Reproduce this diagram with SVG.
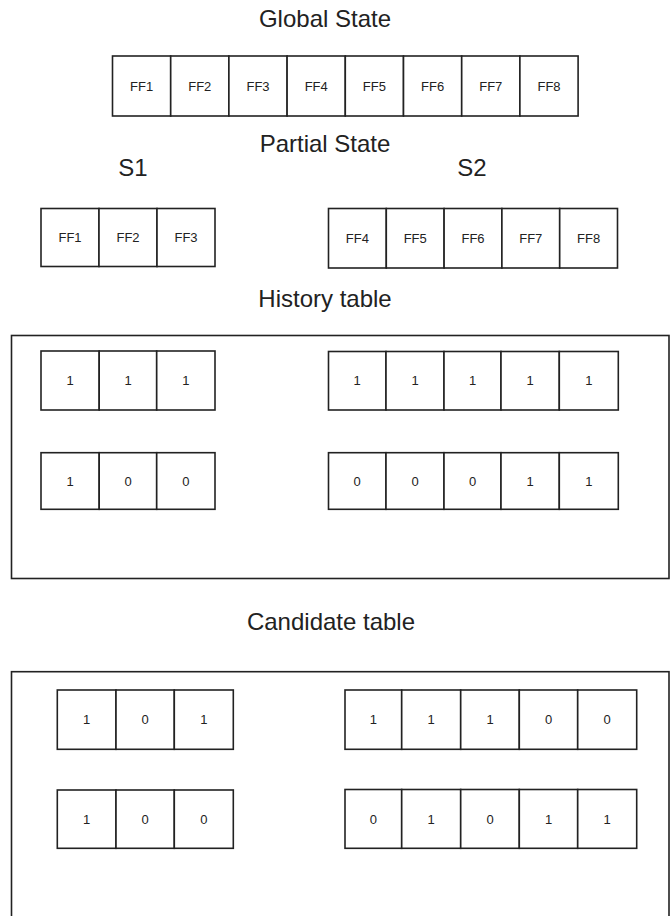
<svg xmlns="http://www.w3.org/2000/svg" width="670" height="916" viewBox="0 0 670 916">
<style>
.t{font-family:"Liberation Sans",Arial,sans-serif;fill:#222;text-anchor:middle}
.title{font-size:24px}
.c{font-size:13px}
.cell{fill:#fff;stroke:#222;stroke-width:1.6}
.outer{fill:none;stroke:#222;stroke-width:1.6}
</style>
<rect width="670" height="916" fill="#fff"/>
<g id="titles">
<text class="t title" x="325" y="27">Global State</text>
<text class="t title" x="325" y="152">Partial State</text>
<text class="t title" x="133" y="176">S1</text>
<text class="t title" x="472" y="176">S2</text>
<text class="t title" x="325" y="307">History table</text>
<text class="t title" x="331" y="630">Candidate table</text>
</g>
<g id="global-state">
<rect class="cell" x="112.5" y="56" width="58.2" height="60"/><text class="t c" x="141.6" y="91">FF1</text>
<rect class="cell" x="170.7" y="56" width="58.2" height="60"/><text class="t c" x="199.8" y="91">FF2</text>
<rect class="cell" x="228.9" y="56" width="58.2" height="60"/><text class="t c" x="258" y="91">FF3</text>
<rect class="cell" x="287.1" y="56" width="58.2" height="60"/><text class="t c" x="316.2" y="91">FF4</text>
<rect class="cell" x="345.3" y="56" width="58.2" height="60"/><text class="t c" x="374.4" y="91">FF5</text>
<rect class="cell" x="403.5" y="56" width="58.2" height="60"/><text class="t c" x="432.6" y="91">FF6</text>
<rect class="cell" x="461.7" y="56" width="58.2" height="60"/><text class="t c" x="490.8" y="91">FF7</text>
<rect class="cell" x="519.9" y="56" width="58.2" height="60"/><text class="t c" x="549" y="91">FF8</text>
</g>
<g id="s1">
<rect class="cell" x="41" y="208.5" width="58" height="58"/><text class="t c" x="70" y="242">FF1</text>
<rect class="cell" x="99" y="208.5" width="58" height="58"/><text class="t c" x="128" y="242">FF2</text>
<rect class="cell" x="157" y="208.5" width="58" height="58"/><text class="t c" x="186" y="242">FF3</text>
</g>
<g id="s2">
<rect class="cell" x="328.5" y="208.5" width="57.8" height="59.5"/><text class="t c" x="357.4" y="243">FF4</text>
<rect class="cell" x="386.3" y="208.5" width="57.8" height="59.5"/><text class="t c" x="415.2" y="243">FF5</text>
<rect class="cell" x="444.1" y="208.5" width="57.8" height="59.5"/><text class="t c" x="473" y="243">FF6</text>
<rect class="cell" x="501.9" y="208.5" width="57.8" height="59.5"/><text class="t c" x="530.8" y="243">FF7</text>
<rect class="cell" x="559.7" y="208.5" width="57.8" height="59.5"/><text class="t c" x="588.6" y="243">FF8</text>
</g>
<g id="history-table">
<rect class="outer" x="11.5" y="335.5" width="657.5" height="243"/>
<g id="h-row1-left">
<rect class="cell" x="41" y="351" width="58.2" height="59"/><text class="t c" x="70.1" y="385">1</text>
<rect class="cell" x="99.2" y="351" width="57.5" height="59"/><text class="t c" x="128" y="385">1</text>
<rect class="cell" x="156.7" y="351" width="58.3" height="59"/><text class="t c" x="185.8" y="385">1</text>
</g>
<g id="h-row1-right">
<rect class="cell" x="328.5" y="351.5" width="57.5" height="58.5"/><text class="t c" x="357.2" y="385">1</text>
<rect class="cell" x="386" y="351.5" width="58" height="58.5"/><text class="t c" x="415" y="385">1</text>
<rect class="cell" x="444" y="351.5" width="57" height="58.5"/><text class="t c" x="472.5" y="385">1</text>
<rect class="cell" x="501" y="351.5" width="58.3" height="58.5"/><text class="t c" x="530.1" y="385">1</text>
<rect class="cell" x="559.3" y="351.5" width="59" height="58.5"/><text class="t c" x="588.8" y="385">1</text>
</g>
<g id="h-row2-left">
<rect class="cell" x="41" y="452.7" width="58.2" height="56.6"/><text class="t c" x="70.1" y="485.5">1</text>
<rect class="cell" x="99.2" y="452.7" width="57.5" height="56.6"/><text class="t c" x="128" y="485.5">0</text>
<rect class="cell" x="156.7" y="452.7" width="58.3" height="56.6"/><text class="t c" x="185.8" y="485.5">0</text>
</g>
<g id="h-row2-right">
<rect class="cell" x="328.5" y="452.7" width="57.5" height="56.6"/><text class="t c" x="357.2" y="485.5">0</text>
<rect class="cell" x="386" y="452.7" width="58" height="56.6"/><text class="t c" x="415" y="485.5">0</text>
<rect class="cell" x="444" y="452.7" width="57" height="56.6"/><text class="t c" x="472.5" y="485.5">0</text>
<rect class="cell" x="501" y="452.7" width="58.3" height="56.6"/><text class="t c" x="530.1" y="485.5">1</text>
<rect class="cell" x="559.3" y="452.7" width="59" height="56.6"/><text class="t c" x="588.8" y="485.5">1</text>
</g>
</g>
<g id="candidate-table">
<rect class="outer" x="11.5" y="671.7" width="657.5" height="260"/>
<g id="c-row1-left">
<rect class="cell" x="57.3" y="690" width="58.7" height="59.3"/><text class="t c" x="86.6" y="724">1</text>
<rect class="cell" x="116" y="690" width="58.3" height="59.3"/><text class="t c" x="145.1" y="724">0</text>
<rect class="cell" x="174.3" y="690" width="59" height="59.3"/><text class="t c" x="203.8" y="724">1</text>
</g>
<g id="c-row1-right">
<rect class="cell" x="345" y="690" width="56.7" height="59.3"/><text class="t c" x="373.3" y="724">1</text>
<rect class="cell" x="401.7" y="690" width="59" height="59.3"/><text class="t c" x="431.2" y="724">1</text>
<rect class="cell" x="460.7" y="690" width="58.6" height="59.3"/><text class="t c" x="490" y="724">1</text>
<rect class="cell" x="519.3" y="690" width="58.4" height="59.3"/><text class="t c" x="548.5" y="724">0</text>
<rect class="cell" x="577.7" y="690" width="59" height="59.3"/><text class="t c" x="607.2" y="724">0</text>
</g>
<g id="c-row2-left">
<rect class="cell" x="57.3" y="790" width="58.7" height="58.3"/><text class="t c" x="86.6" y="823.5">1</text>
<rect class="cell" x="116" y="790" width="58.3" height="58.3"/><text class="t c" x="145.1" y="823.5">0</text>
<rect class="cell" x="174.3" y="790" width="59" height="58.3"/><text class="t c" x="203.8" y="823.5">0</text>
</g>
<g id="c-row2-right">
<rect class="cell" x="345" y="789.5" width="56.7" height="58.8"/><text class="t c" x="373.3" y="823.5">0</text>
<rect class="cell" x="401.7" y="789.5" width="59" height="58.8"/><text class="t c" x="431.2" y="823.5">1</text>
<rect class="cell" x="460.7" y="789.5" width="58.6" height="58.8"/><text class="t c" x="490" y="823.5">0</text>
<rect class="cell" x="519.3" y="789.5" width="58.4" height="58.8"/><text class="t c" x="548.5" y="823.5">1</text>
<rect class="cell" x="577.7" y="789.5" width="59" height="58.8"/><text class="t c" x="607.2" y="823.5">1</text>
</g>
</g>
<g id="connectors"/>
</svg>
